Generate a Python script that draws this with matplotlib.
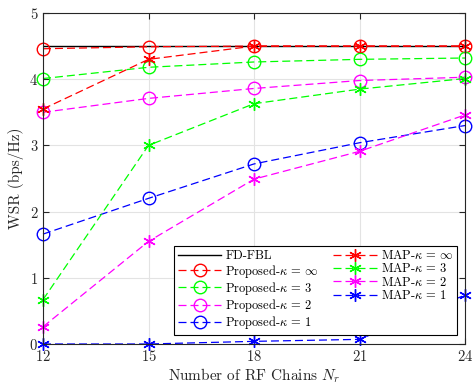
import numpy as np
import matplotlib.pyplot as plt

plt.rcParams['font.family'] = 'cmr10'
plt.rcParams['mathtext.fontset'] = 'cm'
plt.rcParams['axes.formatter.use_mathtext'] = True

# data
Nr = [12, 15, 18, 21, 24]
fd_fbl = [4.5, 4.5, 4.5, 4.5, 4.5]
prop_inf = [4.46, 4.49, 4.5, 4.5, 4.5]
prop_3 = [4.01, 4.18, 4.26, 4.30, 4.32]
prop_2 = [3.50, 3.71, 3.86, 3.98, 4.03]
prop_1 = [1.66, 2.20, 2.72, 3.04, 3.30]
map_inf = [3.55, 4.30, 4.5, 4.5, 4.5]
map_3 = [0.67, 3.00, 3.63, 3.85, 4.01]
map_2 = [0.26, 1.55, 2.49, 2.91, 3.46]
map_1 = [0.0, 0.0, 0.04, 0.07, 0.74]

fig = plt.figure(figsize=(4.73, 3.89), dpi=100)
ax = fig.add_axes([43/473, 1 - 344/389, (465 - 43)/473, (344 - 13)/389])

star = (6, 2, 0)
ms = 9
lw = 0.9
dash = (6.4, 3.2)
ax.plot(Nr, fd_fbl, '-', color='k', linewidth=1.0, label='FD-FBL')
ax.plot(Nr, prop_inf, '--', dashes=dash, color='r', marker='o', markersize=ms, markerfacecolor='none',
        linewidth=lw, clip_on=False, label=r'Proposed-$\kappa\,=\,\infty$')
ax.plot(Nr, prop_3, '--', dashes=dash, color='#00ff00', marker='o', markersize=ms, markerfacecolor='none',
        linewidth=lw, clip_on=False, label=r'Proposed-$\kappa\,=\,3$')
ax.plot(Nr, prop_2, '--', dashes=dash, color='#ff00ff', marker='o', markersize=ms, markerfacecolor='none',
        linewidth=lw, clip_on=False, label=r'Proposed-$\kappa\,=\,2$')
ax.plot(Nr, prop_1, '--', dashes=dash, color='b', marker='o', markersize=ms, markerfacecolor='none',
        linewidth=lw, clip_on=False, label=r'Proposed-$\kappa\,=\,1$')
ax.plot(Nr, map_inf, '--', dashes=dash, color='r', marker=star, markersize=ms, linewidth=lw,
        clip_on=False, label=r'MAP-$\kappa\,=\,\infty$')
ax.plot(Nr, map_3, '--', dashes=dash, color='#00ff00', marker=star, markersize=ms, linewidth=lw,
        clip_on=False, label=r'MAP-$\kappa\,=\,3$')
ax.plot(Nr, map_2, '--', dashes=dash, color='#ff00ff', marker=star, markersize=ms, linewidth=lw,
        clip_on=False, label=r'MAP-$\kappa\,=\,2$')
ax.plot(Nr, map_1, '--', dashes=dash, color='b', marker=star, markersize=ms, linewidth=lw,
        clip_on=False, label=r'MAP-$\kappa\,=\,1$')

ax.set_xlim(12, 24)
ax.set_ylim(0, 5)
ax.set_xticks(Nr)
ax.set_yticks([0, 1, 2, 3, 4, 5])
ax.grid(True, color='#e3e3e3', linewidth=0.8)
ax.set_axisbelow(True)
ax.tick_params(direction='in', top=True, right=True, labelsize=10.5, length=4, colors='#262626')
for s in ax.spines.values():
    s.set_color('#262626')
    s.set_linewidth(0.8)
ax.set_xlabel(r'Number of RF Chains $N_r$', fontsize=11, color='#262626', labelpad=2)
ax.set_ylabel('WSR (bps/Hz)', fontsize=11, color='#262626', labelpad=4)

leg = ax.legend(ncol=2, loc='lower right', bbox_to_anchor=((457 - 43)/422, (344 - 335)/331),
                borderaxespad=0, fontsize=9, handlelength=3.5, columnspacing=1.2,
                labelspacing=0.02, handletextpad=0.3, fancybox=False, framealpha=1,
                edgecolor='k', borderpad=0.3)
leg.get_frame().set_linewidth(0.8)

plt.savefig('out.png', dpi=100)
